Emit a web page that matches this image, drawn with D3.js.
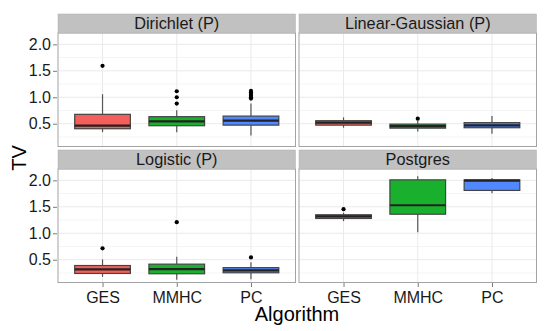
<!DOCTYPE html>
<html><head><meta charset="utf-8">
<script src="https://cdn.jsdelivr.net/npm/d3@7"></script>
<style>body{margin:0;background:#fff;}svg{display:block;font-family:"Liberation Sans",Arial,sans-serif;}</style>
</head><body><svg id="c" width="551" height="331"></svg>
<script>
const panels = ["Dirichlet (P)", "Linear-Gaussian (P)", "Logistic (P)", "Postgres"];
const algorithms = ["GES", "MMHC", "PC"];
const colors = ["#F55F5B", "#19B02E", "#4F88FF"];
const yTicks = [0.5, 1.0, 1.5, 2.0];
const yMinor = [0.25, 0.75, 1.25, 1.75];
// [lower whisker, q1, median, q3, upper whisker] per algorithm
const dirichletStats = [[0.34, 0.405, 0.462, 0.677, 1.057], [0.34, 0.462, 0.544, 0.633, 0.753], [0.278, 0.473, 0.557, 0.644, 0.88]];
const dirichletOutliers = [[1.595], [0.88, 1.0, 1.114], [0.975, 1.0, 1.03, 1.06, 1.09, 1.12]];
const linearStats = [[0.424, 0.473, 0.52, 0.557, 0.62], [0.354, 0.416, 0.454, 0.492, 0.55], [0.31, 0.424, 0.468, 0.52, 0.644]];
const linearOutliers = [[], [0.595], []];
const logisticStats = [[0.177, 0.24, 0.316, 0.39, 0.506], [0.12, 0.234, 0.32, 0.416, 0.557], [0.13, 0.253, 0.30, 0.35, 0.45]];
const logisticOutliers = [[0.715], [1.21], [0.544]];
const postgresStats = [[1.23, 1.28, 1.32, 1.35, 1.39], [1.02, 1.36, 1.53, 2.01, 2.08], [1.755, 1.81, 1.995, 2.01, 2.046]];
const postgresOutliers = [[1.456], [], []];

const stats = [dirichletStats, linearStats, logisticStats, postgresStats];
const outliers = [dirichletOutliers, linearOutliers, logisticOutliers, postgresOutliers];

const svg = d3.select("#c");
const colX = [58, 299], pw = 237.5;
const rowY = [33, 169], ph = 113.5, stripH = 19;

panels.forEach((name, i) => {
  const px = colX[i % 2], py = rowY[Math.floor(i / 2)];
  const xp = d3.scalePoint().domain(algorithms).range([px + pw * 0.6 / 3.2, px + pw * 2.6 / 3.2]);
  const unit = pw / 3.2;
  const y = d3.scaleLinear().domain([0.069, 2.215]).range([py + ph, py]);
  const g = svg.append("g");
  g.append("rect").attr("x", px).attr("y", py).attr("width", pw).attr("height", ph).attr("fill", "#fff");
  g.selectAll(".mn").data(yMinor).join("line").attr("x1", px).attr("x2", px + pw)
    .attr("y1", d => y(d)).attr("y2", d => y(d)).attr("stroke", "#F5F5F5").attr("stroke-width", 1);
  g.selectAll(".mj").data(yTicks).join("line").attr("x1", px).attr("x2", px + pw)
    .attr("y1", d => y(d)).attr("y2", d => y(d)).attr("stroke", "#EAEAEA").attr("stroke-width", 1);
  g.selectAll(".vx").data(algorithms).join("line").attr("x1", d => xp(d)).attr("x2", d => xp(d))
    .attr("y1", py).attr("y2", py + ph).attr("stroke", "#EAEAEA").attr("stroke-width", 1);
  const bw = unit * 0.75;
  algorithms.forEach((a, j) => {
    const s = stats[i][j], cx = xp(a);
    g.append("line").attr("x1", cx).attr("x2", cx).attr("y1", y(s[0])).attr("y2", y(s[1])).attr("stroke", "#555").attr("stroke-width", 1.2);
    g.append("line").attr("x1", cx).attr("x2", cx).attr("y1", y(s[3])).attr("y2", y(s[4])).attr("stroke", "#555").attr("stroke-width", 1.2);
    g.append("rect").attr("x", cx - bw / 2).attr("y", y(s[3])).attr("width", bw).attr("height", Math.max(0.5, y(s[1]) - y(s[3])))
      .attr("fill", colors[j]).attr("stroke", "#444").attr("stroke-width", 1.2);
    g.append("line").attr("x1", cx - bw / 2).attr("x2", cx + bw / 2).attr("y1", y(s[2])).attr("y2", y(s[2])).attr("stroke", "#222").attr("stroke-width", 2.2);
    g.selectAll(null).data(outliers[i][j]).join("circle").attr("cx", cx).attr("cy", d => y(d)).attr("r", 2.1).attr("fill", "#000");
  });
  g.append("rect").attr("x", px).attr("y", py).attr("width", pw).attr("height", ph).attr("fill", "none").attr("stroke", "#A3A3A3").attr("stroke-width", 1);
  g.append("rect").attr("x", px).attr("y", py - stripH).attr("width", pw).attr("height", stripH).attr("fill", "#C1C1C1").attr("stroke", "#B0B0B0").attr("stroke-width", 0.5);
  g.append("text").attr("x", px + pw / 2).attr("y", py - 4.5).attr("text-anchor", "middle").attr("font-size", 16.3).attr("fill", "#1a1a1a").text(name);
  if (i % 2 === 0) {
    const ya = d3.axisLeft(y).tickValues(yTicks).tickFormat(d3.format(".1f")).tickSize(4).tickPadding(2);
    const ag = svg.append("g").attr("transform", `translate(${px - 1},0)`).call(ya);
    ag.select(".domain").remove();
    ag.selectAll(".tick line").attr("stroke", "#7a7a7a");
    ag.selectAll("text").attr("font-size", 16).attr("fill", "#1a1a1a").attr("font-family", "Liberation Sans, Arial, sans-serif");
  }
  if (i >= 2) {
    const xa = d3.axisBottom(xp).tickSize(4).tickPadding(4.5);
    const ag = svg.append("g").attr("transform", `translate(0,${py + ph + 0.5})`).call(xa);
    ag.select(".domain").remove();
    ag.selectAll(".tick line").attr("stroke", "#7a7a7a");
    ag.selectAll("text").attr("font-size", 16).attr("fill", "#1a1a1a").attr("font-family", "Liberation Sans, Arial, sans-serif");
  }
});

svg.append("text").attr("x", 297).attr("y", 321).attr("text-anchor", "middle").attr("font-size", 20).attr("fill", "#000").text("Algorithm");
svg.append("text").attr("transform", "translate(26,158) rotate(-90)").attr("text-anchor", "middle").attr("font-size", 20).attr("fill", "#000").text("TV");
</script></body></html>
